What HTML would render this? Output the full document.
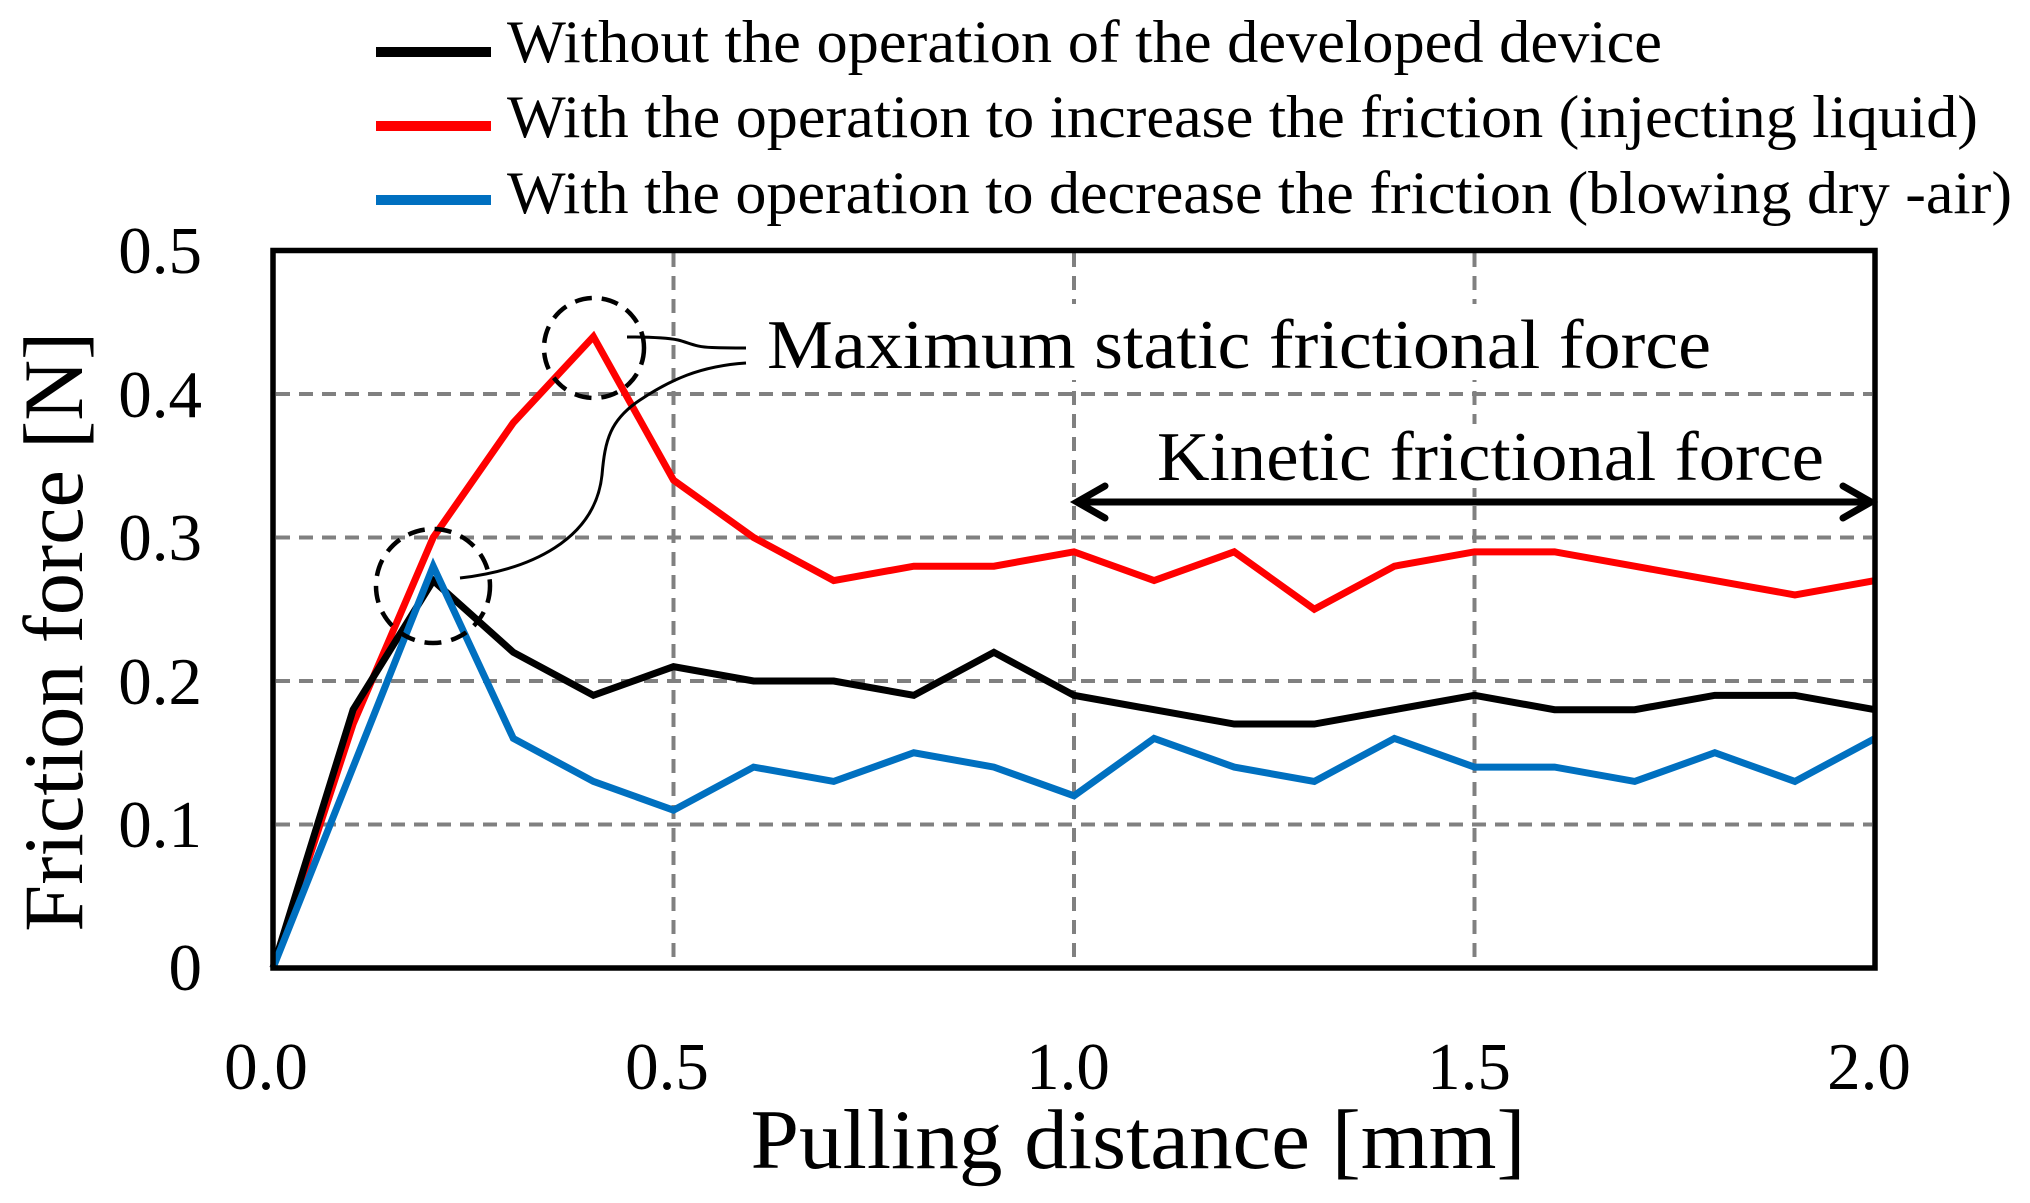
<!DOCTYPE html>
<html>
<head>
<meta charset="utf-8">
<style>
html,body{margin:0;padding:0;background:#fff;}
svg{display:block;}
text{font-family:"Liberation Serif",serif;fill:#000;}
</style>
</head>
<body>
<svg width="2030" height="1203" viewBox="0 0 2030 1203" xmlns="http://www.w3.org/2000/svg">
<rect x="0" y="0" width="2030" height="1203" fill="#fff"/>

<!-- Legend -->
<line x1="376" y1="52" x2="491" y2="52" stroke="#000" stroke-width="10"/>
<line x1="376" y1="126" x2="491" y2="126" stroke="#FF0000" stroke-width="10"/>
<line x1="376" y1="200" x2="491" y2="200" stroke="#0070C0" stroke-width="10"/>
<text x="507" y="62" font-size="60" textLength="1155" lengthAdjust="spacingAndGlyphs">Without the operation of the developed device</text>
<text x="507" y="137" font-size="60" textLength="1471" lengthAdjust="spacingAndGlyphs">With the operation to increase the friction (injecting liquid)</text>
<text x="507" y="213" font-size="60" textLength="1505" lengthAdjust="spacingAndGlyphs">With the operation to decrease the friction (blowing dry -air)</text>

<!-- Gridlines -->
<g stroke="#808080" stroke-width="4" stroke-dasharray="14 9" fill="none">
<line x1="276" y1="394" x2="1872" y2="394"/>
<line x1="276" y1="537.5" x2="1872" y2="537.5"/>
<line x1="276" y1="681" x2="1872" y2="681"/>
<line x1="276" y1="824.5" x2="1872" y2="824.5"/>
<line x1="673.5" y1="253" x2="673.5" y2="966"/>
<line x1="1074" y1="253" x2="1074" y2="966"/>
<line x1="1474.5" y1="253" x2="1474.5" y2="966"/>
</g>

<!-- white backgrounds for annotation text -->
<rect x="760" y="304" width="960" height="76" fill="#fff"/>
<rect x="1150" y="424" width="682" height="64" fill="#fff"/>

<!-- Series -->
<g fill="none" stroke-width="7" stroke-linejoin="miter">
<polyline stroke="#FF0000" points="273,968 353.1,724.05 433.2,537.5 513.3,422.7 593.4,336.6 673.5,480.1 753.6,537.5 833.7,580.55 913.8,566.2 993.9,566.2 1074,551.85 1154.1,580.55 1234.2,551.85 1314.3,609.25 1394.4,566.2 1474.5,551.85 1554.6,551.85 1634.7,566.2 1714.8,580.55 1794.9,594.9 1875,580.55"/>
<polyline stroke="#000000" points="273,968 353.1,709.7 433.2,580.55 513.3,652.3 593.4,695.35 673.5,666.65 753.6,681 833.7,681 913.8,695.35 993.9,652.3 1074,695.35 1154.1,709.7 1234.2,724.05 1314.3,724.05 1394.4,709.7 1474.5,695.35 1554.6,709.7 1634.7,709.7 1714.8,695.35 1794.9,695.35 1875,709.7"/>
<polyline stroke="#0070C0" points="273,968 353.1,767.1 433.2,566.2 513.3,738.4 593.4,781.45 673.5,810.15 753.6,767.1 833.7,781.45 913.8,752.75 993.9,767.1 1074,795.8 1154.1,738.4 1234.2,767.1 1314.3,781.45 1394.4,738.4 1474.5,767.1 1554.6,767.1 1634.7,781.45 1714.8,752.75 1794.9,781.45 1875,738.4"/>
</g>

<!-- Plot border -->
<rect x="273" y="250.5" width="1602" height="717.5" fill="none" stroke="#000" stroke-width="5.5"/>

<!-- Dashed circles -->
<g fill="none" stroke="#000" stroke-width="4.5" stroke-dasharray="17 10">
<circle cx="594" cy="348" r="50"/>
<circle cx="433" cy="586" r="57"/>
</g>

<!-- Callout curves -->
<g fill="none" stroke="#000" stroke-width="3">
<path d="M627,337 C650,337 668,338 678,340 C690,343 695,347 712,347.5 C725,348 735,348 746,348"/>
<path d="M460,578 C530,570 595,540 602,475 C605,440 610,420 640,400 C670,380 700,366 746,363"/>
</g>

<!-- Annotation texts -->
<text x="767" y="368" font-size="70" textLength="944" lengthAdjust="spacingAndGlyphs">Maximum static frictional force</text>
<text x="1157" y="480" font-size="70" textLength="667" lengthAdjust="spacingAndGlyphs">Kinetic frictional force</text>

<!-- Kinetic arrow -->
<g fill="none" stroke="#000" stroke-width="7" stroke-linecap="round">
<line x1="1080" y1="502" x2="1868" y2="502"/>
<polyline points="1105,486 1077,502 1105,518"/>
<polyline points="1843,486 1871,502 1843,518"/>
</g>

<!-- Y tick labels -->
<g font-size="67" text-anchor="end">
<text x="202" y="273">0.5</text>
<text x="202" y="417">0.4</text>
<text x="202" y="560">0.3</text>
<text x="202" y="704">0.2</text>
<text x="202" y="847">0.1</text>
<text x="202" y="990">0</text>
</g>

<!-- X tick labels -->
<g font-size="67" text-anchor="middle">
<text x="266" y="1089">0.0</text>
<text x="667" y="1089">0.5</text>
<text x="1068" y="1089">1.0</text>
<text x="1469" y="1089">1.5</text>
<text x="1869" y="1089">2.0</text>
</g>

<!-- Axis titles -->
<text x="1138" y="1168" font-size="85" text-anchor="middle" textLength="775" lengthAdjust="spacingAndGlyphs">Pulling distance [mm]</text>
<text transform="translate(82,631.7) rotate(-90)" font-size="85" text-anchor="middle" textLength="600" lengthAdjust="spacingAndGlyphs">Friction force [N]</text>
</svg>
</body>
</html>
